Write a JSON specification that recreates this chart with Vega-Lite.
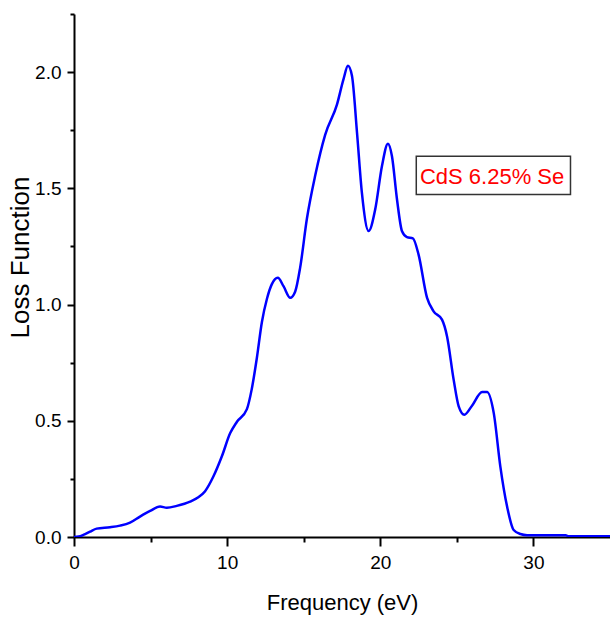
{
  "$schema": "https://vega.github.io/schema/vega-lite/v6.json",
  "width": 536,
  "height": 523,
  "autosize": {"type": "none"},
  "padding": {"left": 74, "top": 14, "right": 0, "bottom": 84},
  "background": "white",
  "config": {
    "view": {"stroke": null},
    "font": "Liberation Sans",
    "axis": {"grid": false, "domainColor": "black", "domainWidth": 2, "tickColor": "black", "tickWidth": 2, "labelColor": "black", "titleColor": "black", "labelFont": "Liberation Sans", "titleFont": "Liberation Sans", "titleFontWeight": "normal"}
  },
  "datasets": {
    "curve": [
      {"f": 0.0, "l": 0.0},
      {"f": 0.3, "l": 0.002},
      {"f": 0.61, "l": 0.009},
      {"f": 1.05, "l": 0.023},
      {"f": 1.48, "l": 0.036},
      {"f": 2.35, "l": 0.042},
      {"f": 3.0, "l": 0.049},
      {"f": 3.66, "l": 0.062},
      {"f": 4.31, "l": 0.088},
      {"f": 4.97, "l": 0.112},
      {"f": 5.62, "l": 0.131},
      {"f": 6.06, "l": 0.126},
      {"f": 6.71, "l": 0.134},
      {"f": 7.58, "l": 0.152},
      {"f": 8.12, "l": 0.171},
      {"f": 8.56, "l": 0.197},
      {"f": 9.1, "l": 0.26},
      {"f": 9.65, "l": 0.346},
      {"f": 10.2, "l": 0.447},
      {"f": 10.63, "l": 0.495},
      {"f": 11.29, "l": 0.55},
      {"f": 11.6, "l": 0.634},
      {"f": 11.94, "l": 0.77},
      {"f": 12.27, "l": 0.925},
      {"f": 12.6, "l": 1.025},
      {"f": 12.92, "l": 1.088},
      {"f": 13.31, "l": 1.115},
      {"f": 13.68, "l": 1.079},
      {"f": 14.12, "l": 1.029},
      {"f": 14.44, "l": 1.055},
      {"f": 14.77, "l": 1.16},
      {"f": 15.21, "l": 1.37},
      {"f": 15.75, "l": 1.555},
      {"f": 16.4, "l": 1.73},
      {"f": 17.17, "l": 1.86},
      {"f": 17.6, "l": 1.97},
      {"f": 17.89, "l": 2.027},
      {"f": 18.15, "l": 1.984},
      {"f": 18.48, "l": 1.74},
      {"f": 18.8, "l": 1.48},
      {"f": 19.24, "l": 1.316},
      {"f": 19.67, "l": 1.41},
      {"f": 20.11, "l": 1.596},
      {"f": 20.5, "l": 1.692},
      {"f": 20.76, "l": 1.639},
      {"f": 21.09, "l": 1.453},
      {"f": 21.42, "l": 1.315},
      {"f": 21.74, "l": 1.29},
      {"f": 22.13, "l": 1.285},
      {"f": 22.5, "l": 1.215},
      {"f": 23.05, "l": 1.03},
      {"f": 23.48, "l": 0.971},
      {"f": 24.03, "l": 0.935},
      {"f": 24.36, "l": 0.863},
      {"f": 24.79, "l": 0.677},
      {"f": 25.12, "l": 0.562},
      {"f": 25.49, "l": 0.526},
      {"f": 25.99, "l": 0.565},
      {"f": 26.65, "l": 0.624},
      {"f": 26.97, "l": 0.624},
      {"f": 27.41, "l": 0.533},
      {"f": 27.84, "l": 0.303},
      {"f": 28.28, "l": 0.131},
      {"f": 28.71, "l": 0.03},
      {"f": 29.15, "l": 0.013},
      {"f": 29.59, "l": 0.008},
      {"f": 31.0, "l": 0.008},
      {"f": 32.1, "l": 0.008},
      {"f": 32.3, "l": 0.003},
      {"f": 35.0, "l": 0.003}
    ],
    "label": [
      {"x1": 22.35, "x2": 32.42, "y1": 1.474, "y2": 1.638, "tx": 27.3, "ty": 1.517, "text": "CdS 6.25% Se"}
    ]
  },
  "layer": [
    {
      "data": {"name": "curve"},
      "mark": {"type": "line", "color": "#0000ff", "strokeWidth": 2.5, "interpolate": "monotone", "clip": true},
      "encoding": {
        "x": {
          "field": "f", "type": "quantitative",
          "scale": {"domain": [0, 35], "nice": false, "zero": false},
          "axis": {
            "title": "Frequency (eV)", "titleFontSize": 22, "titlePadding": 20,
            "values": [0, 5, 10, 15, 20, 25, 30],
            "labelExpr": "datum.value % 10 === 0 ? datum.label : ''",
            "labelFontSize": 19, "labelPadding": 7, "labelFlush": false,
            "tickSize": {"condition": {"test": "datum.value % 10 !== 0", "value": 5}, "value": 9}
          }
        },
        "y": {
          "field": "l", "type": "quantitative",
          "scale": {"domain": [0, 2.25], "nice": false, "zero": false},
          "axis": {
            "title": "Loss Function", "titleFontSize": 26,
            "values": [0, 0.25, 0.5, 0.75, 1, 1.25, 1.5, 1.75, 2, 2.25],
            "format": ".1f",
            "labelExpr": "datum.value % 0.5 === 0 ? datum.label : ''",
            "labelFontSize": 19, "labelPadding": 6, "labelFlush": false,
            "titleX": -54, "titleY": 243, "titleAlign": "center", "titleBaseline": "middle", "titleAngle": -90,
            "tickSize": {"condition": {"test": "datum.value % 0.5 !== 0", "value": 4}, "value": 7}
          }
        }
      }
    },
    {
      "data": {"name": "label"},
      "mark": {"type": "rect", "fill": "white", "stroke": "#333333", "strokeWidth": 1.5},
      "encoding": {
        "x": {"field": "x1", "type": "quantitative"},
        "x2": {"field": "x2"},
        "y": {"field": "y1", "type": "quantitative"},
        "y2": {"field": "y2"}
      }
    },
    {
      "data": {"name": "label"},
      "mark": {"type": "text", "color": "#ff0000", "fontSize": 22, "font": "Liberation Sans", "align": "center", "baseline": "alphabetic"},
      "encoding": {
        "x": {"field": "tx", "type": "quantitative"},
        "y": {"field": "ty", "type": "quantitative"},
        "text": {"field": "text"}
      }
    }
  ]
}
